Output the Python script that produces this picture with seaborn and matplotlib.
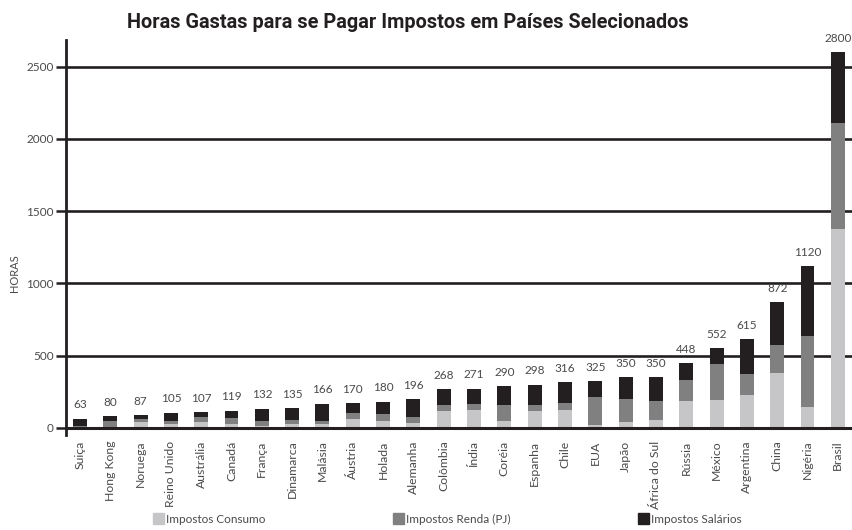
import matplotlib
matplotlib.use("Agg")
import matplotlib.pyplot as plt
import matplotlib.patches as mpatches
import seaborn as sns
import pandas as pd
import numpy as np

countries = ["Suiça", "Hong Kong", "Noruega", "Reino Unido", "Austrália", "Canadá",
             "França", "Dinamarca", "Malásia", "Áustria", "Holada", "Alemanha",
             "Colômbia", "Índia", "Coréia", "Espanha", "Chile", "EUA", "Japão",
             "África do Sul", "Rússia", "México", "Argentina", "China", "Nigéria", "Brasil"]
consumo = [5, 0, 40, 28, 42, 26, 10, 28, 28, 60, 47, 33, 116, 126, 47, 116, 124, 20,
           40, 53, 186, 190, 230, 376, 145, 1374]
renda = [8, 50, 20, 21, 32, 41, 36, 25, 19, 42, 48, 41, 42, 41, 111, 42, 48, 195,
         160, 133, 147, 255, 139, 200, 493, 736]
salarios = [50, 30, 27, 56, 33, 52, 86, 82, 119, 68, 85, 122, 110, 104, 132, 140, 144, 110,
            150, 164, 115, 107, 246, 296, 482, 490]
value_labels = ["63", "80", "87", "105", "107", "119", "132", "135", "166", "170", "180",
                "196", "268", "271", "290", "298", "316", "325", "350", "350", "448",
                "552", "615", "872", "1120", "2800"]
yticks = [0, 500, 1000, 1500, 2000, 2500]
series_names = ["Impostos Consumo", "Impostos Renda (PJ)", "Impostos Salários"]

c_light = "#c6c6c8"
c_mid = "#808081"
c_dark = "#231f20"
txt = "#4a4a4a"

sns.set_theme(style="white")
plt.rcParams["font.family"] = ["Lato", "DejaVu Sans"]

df = pd.DataFrame({"pais": countries, "consumo": consumo, "renda": renda, "salarios": salarios})
df["b2"] = df["consumo"]
df["b3"] = df["consumo"] + df["renda"]

fig = plt.figure(figsize=(8.53, 5.30), dpi=100)
ax = fig.add_axes([66/853, 95/530, 1 - 66/853, (435-40)/530])

for y in yticks[1:]:
    ax.axhline(y, color=c_dark, lw=1.9, zorder=0)

w = 0.46
sns.barplot(data=df, x="pais", y="consumo", color=c_light, width=w, ax=ax,
            saturation=1, zorder=2, linewidth=0)
sns.barplot(data=df, x="pais", y="renda", bottom=df["b2"].values, color=c_mid, width=w,
            ax=ax, saturation=1, zorder=2, linewidth=0)
sns.barplot(data=df, x="pais", y="salarios", bottom=df["b3"].values, color=c_dark, width=w,
            ax=ax, saturation=1, zorder=2, linewidth=0)

ax.axhline(0, color=c_dark, lw=2.2, zorder=3)

totals = df["consumo"] + df["renda"] + df["salarios"]
for i, (t, lab) in enumerate(zip(totals, value_labels)):
    ax.annotate(lab, (i, t), xytext=(0, 6), textcoords="offset points",
                ha="center", va="bottom", fontsize=8.5, color=txt)

ax.set_xlim(-0.46, 25.5)
ax.set_ylim(-50, 2685)
ax.set_yticks(yticks)
ax.set_yticklabels([str(v) for v in yticks], fontsize=8.5, color=txt)
ax.tick_params(axis="y", length=7, width=1.8, color=c_dark, pad=2, left=True)
ax.tick_params(axis="x", length=0, pad=4)
ax.set_xticks(range(len(countries)))
ax.set_xticklabels(countries, rotation=90, fontsize=8.8, color=txt)
ax.set_xlabel("")
ax.set_ylabel("HORAS", fontsize=8, color=txt)
ax.yaxis.set_label_coords(-46/787, 0.41)

for s in ["top", "right", "bottom"]:
    ax.spines[s].set_visible(False)
ax.spines["left"].set_color(c_dark)
ax.spines["left"].set_linewidth(2)

fig.suptitle("Horas Gastas para se Pagar Impostos em Países Selecionados",
             x=408/853, y=1 - 22/530, va="center", fontsize=14.3, fontweight="bold",
             color="#231f20", family=["Roboto", "DejaVu Sans"])

handles = [mpatches.Patch(color=c, label=n) for c, n in zip([c_light, c_mid, c_dark], series_names)]
fig.legend(handles=handles, loc="center left", bbox_to_anchor=(142/853, 11/530), ncol=3,
           frameon=False, fontsize=8.5, handlelength=1.0, handleheight=1.0,
           handletextpad=0.1, columnspacing=10.8, labelcolor=txt)

fig.savefig("out.png", dpi=100)
